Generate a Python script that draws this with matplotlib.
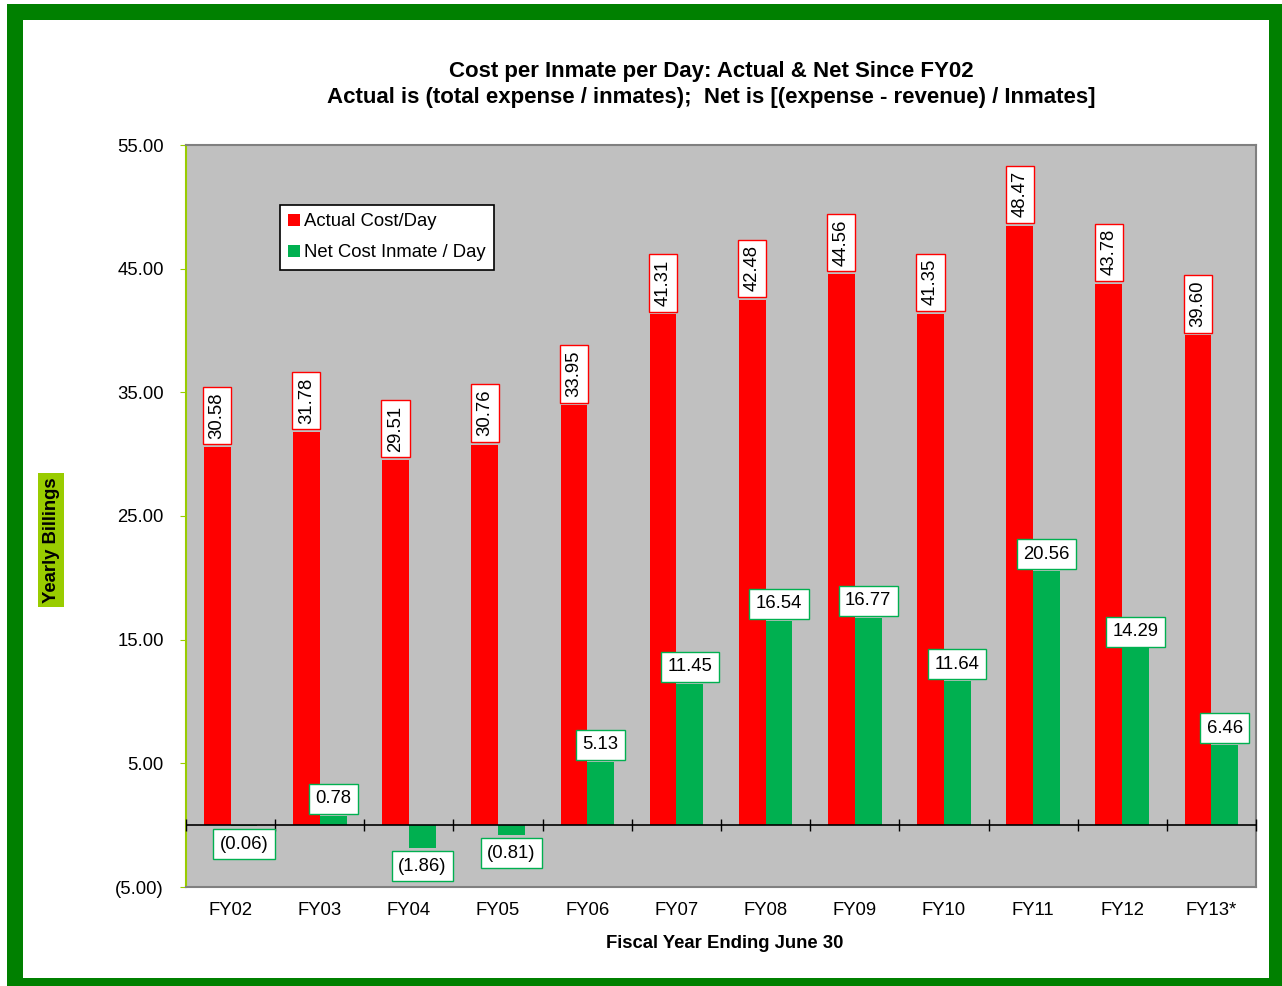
import matplotlib
matplotlib.use("Agg")
import matplotlib.pyplot as plt
import matplotlib.patches as mpatches
import numpy as np

plt.rcParams['font.family'] = ['Liberation Sans', 'DejaVu Sans']

categories = ["FY02", "FY03", "FY04", "FY05", "FY06", "FY07", "FY08", "FY09",
              "FY10", "FY11", "FY12", "FY13*"]
actual = [30.58, 31.78, 29.51, 30.76, 33.95, 41.31, 42.48, 44.56, 41.35, 48.47, 43.78, 39.60]
net = [-0.06, 0.78, -1.86, -0.81, 5.13, 11.45, 16.54, 16.77, 11.64, 20.56, 14.29, 6.46]
yticks = [-5, 5, 15, 25, 35, 45, 55]

RED = "#FF0000"
GREEN = "#00B050"
FRAME = "#008000"
YG = "#99CC00"
FS = 13.3

W, H = 1282, 986
fig = plt.figure(figsize=(W / 100, H / 100), dpi=100)
fig.patch.set_facecolor("white")

left, right, top, bottom = 186, 1256, 145, 887
ax = fig.add_axes([left / W, 1 - bottom / H, (right - left) / W, (bottom - top) / H])
ax.set_facecolor("#C0C0C0")

x = np.arange(len(categories))
bw = 0.30
ax.bar(x - bw / 2, actual, width=bw, color=RED, label="Actual Cost/Day", zorder=2)
ax.bar(x + bw / 2, net, width=bw, color=GREEN, label="Net Cost Inmate / Day", zorder=2)

ax.set_xlim(-0.5, len(categories) - 0.5)
ax.set_ylim(-5, 55)

def fmt(v):
    return "({:.2f})".format(abs(v)) if v < 0 else "{:.2f}".format(v)

ax.set_yticks(yticks)
ax.set_yticklabels([fmt(v) for v in yticks], fontsize=FS)
ax.tick_params(axis="y", length=4, color=YG, pad=12)
ax.set_xticks(x)
ax.set_xticklabels(categories, fontsize=FS)
ax.tick_params(axis="x", length=0, pad=11)

for s in ["top", "right", "bottom"]:
    ax.spines[s].set_color("#808080")
    ax.spines[s].set_linewidth(1.5)
ax.spines["left"].set_color(YG)
ax.spines["left"].set_linewidth(1.5)

ax.axhline(0, color="black", linewidth=1.2, zorder=3)
bounds = np.arange(len(categories) + 1) - 0.5
ax.plot(bounds, np.zeros_like(bounds), linestyle="none", marker="|",
        markersize=8, color="black", markeredgewidth=1, zorder=3, clip_on=False)

for xi, v in zip(x, actual):
    ax.annotate("{:.2f}".format(v), (xi - bw / 2, v), xytext=(0, 6),
                textcoords="offset points", rotation=90, ha="center", va="bottom",
                fontsize=FS, zorder=4,
                bbox=dict(boxstyle="square,pad=0.3", fc="white", ec=RED, lw=1))
for xi, v in zip(x, net):
    off = 6 if v >= 0 else -7
    ax.annotate(fmt(v), (xi + bw / 2, v), xytext=(0, off),
                textcoords="offset points", ha="center",
                va="bottom" if v >= 0 else "top",
                fontsize=FS, zorder=4,
                bbox=dict(boxstyle="square,pad=0.35", fc="white", ec=GREEN, lw=1))

leg = ax.legend(loc="upper left", bbox_to_anchor=(0.088, 0.919), fontsize=FS,
                frameon=True, fancybox=False, edgecolor="black", framealpha=1,
                handlelength=0.6, handleheight=0.6, handletextpad=0.25,
                borderpad=0.45, labelspacing=0.75, borderaxespad=0)
leg.get_frame().set_linewidth(1.2)

fig.text(711 / W, 1 - 71 / H, "Cost per Inmate per Day: Actual & Net Since FY02",
         ha="center", va="center", fontsize=16, fontweight="bold")
fig.text(711 / W, 1 - 97 / H,
         "Actual is (total expense / inmates);  Net is [(expense - revenue) / Inmates]",
         ha="center", va="center", fontsize=16, fontweight="bold")
fig.text(725 / W, 1 - 943 / H, "Fiscal Year Ending June 30", ha="center", va="center",
         fontsize=FS, fontweight="bold")
fig.text(51 / W, 1 - 540 / H, "Yearly Billings", ha="center", va="center",
         rotation=90, fontsize=FS, fontweight="bold",
         bbox=dict(boxstyle="square,pad=0.25", fc=YG, ec="none"))

frame = mpatches.Rectangle((15 / W, 0), (1277 - 15) / W, (986 - 12) / H,
                           transform=fig.transFigure, fill=False, ec=FRAME,
                           lw=16 * 72 / 100, zorder=10)
fig.patches.append(frame)

fig.savefig("out.png", dpi=100)
